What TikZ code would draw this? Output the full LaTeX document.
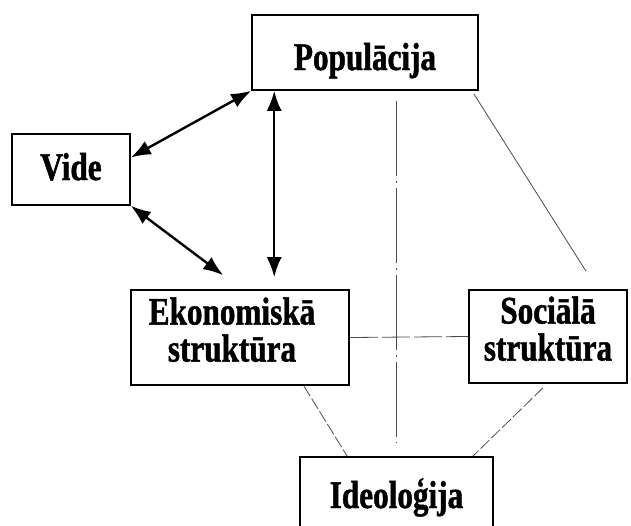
\documentclass[tikz,border=0pt]{standalone}
\usepackage{fontspec}
\setmainfont{Liberation Serif}[FakeStretch=0.8, BoldFeatures={FakeBold=1.2}]
\usetikzlibrary{arrows.meta}

\begin{document}
\begin{tikzpicture}[%
    x=1pt, y=-1pt,
    box/.style={%
        draw,
        rectangle,
        line width=1.6pt,
        inner sep=0pt,
        align=center,
        font=\fontsize{39}{37}\selectfont\bfseries
    },
    link/.style={%
        line width=2.4pt,
        {Latex[length=20pt,width=15pt]}-{Latex[length=20pt,width=15pt]}
    },
    thin/.style={%
        line width=0.8pt,
        black!70
    }
]
\useasboundingbox (0,0) rectangle (631,525);

% Boxes
    \node[box, minimum width=226pt, minimum height=75pt, text height=40pt, text depth=5pt] (pop) at (365,52.5) {Populācija};
    \node[box, minimum width=118pt, minimum height=71pt, text height=26pt, text depth=5pt] (vide) at (71,169.5) {Vide};
    \node[box, minimum width=218pt, minimum height=95pt, text depth=16pt] (eko) at (240,337.5) {Ekonomiskā\kern16pt\\struktūra\kern16pt};
    \node[box, minimum width=158pt, minimum height=93pt, text depth=16pt] (soc) at (548,336.5) {Sociālā\\struktūra};
    \node[box, minimum width=193pt, minimum height=84pt, text height=26pt, text depth=8pt] (ideo) at (396.5,499) {Ideoloģija};

% Arrows
\draw[link] ([yshift=12pt]vide.east) -- (pop.south west);
\draw[link] (vide.south east) -- ([xshift=93pt,yshift=14pt]eko.north west);
\draw[link] ([xshift=23pt]pop.south west) -- ([xshift=144pt,yshift=12pt]eko.north west);

% Lines
\draw[thin, dash pattern=on 75pt off 5pt on 2pt off 5pt] ([xshift=145pt,yshift=-10pt]pop.south west) -- ([xshift=97pt,yshift=14pt]ideo.north west);
\draw[thin, dash pattern=on 28pt off 4pt] (eko.east) -- (soc.west);
\draw[thin] ([xshift=-5pt,yshift=-3pt]pop.south east) -- ([xshift=38pt,yshift=18pt]soc.north);
\draw[thin, dash pattern=on 12pt off 3pt] ([xshift=-46pt]eko.south east) -- ([xshift=48pt]ideo.north west);
\draw[thin, dash pattern=on 12pt off 3pt] ([xshift=-5pt,yshift=-4pt]soc.south) -- ([xshift=-21pt]ideo.north east);

\end{tikzpicture}
\end{document}
